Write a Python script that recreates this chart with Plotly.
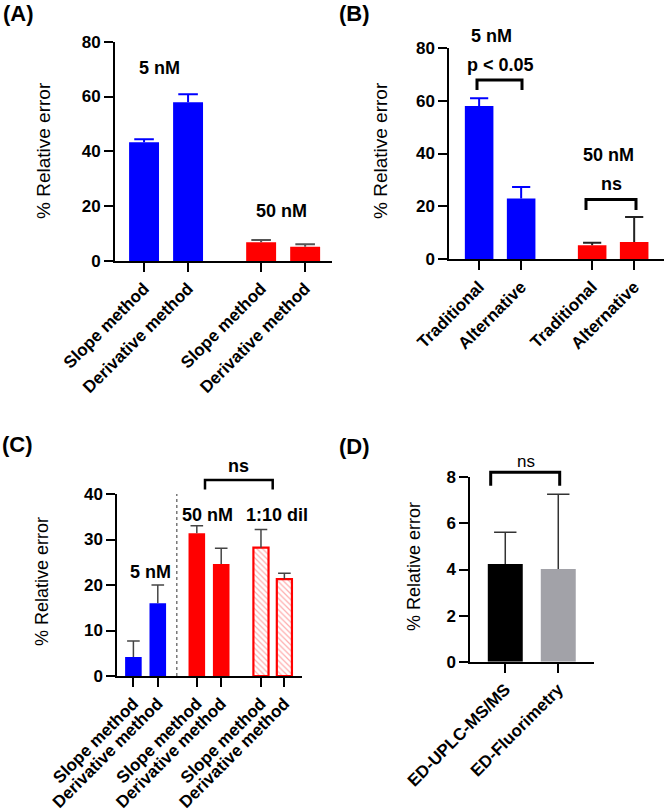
import plotly.graph_objects as go

W, H = 664, 811
FONT = "Liberation Sans, Arial, sans-serif"

# ---------------- data ----------------
# Panel A
a_labels = ["Slope method", "Derivative method", "Slope method", "Derivative method"]
a_5nm = [43.3, 57.9]
a_5nm_err = [1.1, 2.9]
a_50nm = [6.8, 5.2]
a_50nm_err = [0.9, 0.9]

# Panel B
b_labels = ["Traditional", "Alternative", "Traditional", "Alternative"]
b_5nm = [58.0, 23.0]
b_5nm_err = [2.9, 4.3]
b_50nm = [5.3, 6.5]
b_50nm_err = [1.0, 9.5]

# Panel C
c_labels = ["Slope method", "Derivative method", "Slope method", "Derivative method",
            "Slope method", "Derivative method"]
c_5nm = [4.2, 16.0]
c_5nm_err = [3.5, 4.0]
c_50nm = [31.4, 24.6]
c_50nm_err = [1.6, 3.5]
c_dil = [28.2, 21.3]
c_dil_err = [4.0, 1.3]

# Panel D
d_labels = ["ED-UPLC-MS/MS", "ED-Fluorimetry"]
d_values = [4.24, 4.02]
d_err = [1.38, 3.25]

# ---------------- layout helpers ----------------
a_pos = [0, 1, 2.66, 3.66]
b_pos = [0, 1, 2.69, 3.69]
c_pos = [0, 1, 2.6, 3.6, 5.23, 6.19]
d_pos = [0, 1]

BLUE = "#0000ff"
RED = "#ff0000"


def px(x):
    return x / W


def py(y):
    return 1 - y / H


fig = go.Figure()


def bar(xaxis, yaxis, xs, ys, err, color, ecolor, width, ewidth, ethick=1.6, pattern=None, line=None):
    marker = dict(color=color, line=dict(width=0))
    if pattern:
        marker["pattern"] = pattern
    if line:
        marker["line"] = line
    fig.add_trace(go.Bar(x=xs, y=ys, xaxis=xaxis, yaxis=yaxis, width=width,
                         marker=marker, showlegend=False, hoverinfo="skip"))
    # upper-only error bar: stem via error_y (no caps), cap via a line marker
    tops = [v + e for v, e in zip(ys, err)]
    fig.add_trace(go.Scatter(
        x=xs, y=tops, xaxis=xaxis, yaxis=yaxis, mode="markers",
        marker=dict(symbol="line-ew", size=2 * ewidth,
                    line=dict(color=ecolor, width=ethick)),
        error_y=dict(type="data", symmetric=False, array=[0] * len(err), arrayminus=err,
                     color=ecolor, thickness=ethick, width=0),
        showlegend=False, hoverinfo="skip"))


# A
bar("x", "y", a_pos[:2], a_5nm, a_5nm_err, BLUE, BLUE, 0.68, 7, 2)
bar("x", "y", a_pos[2:], a_50nm, a_50nm_err, RED, "#555555", 0.68, 7, 2)
# B
bar("x2", "y2", b_pos[:2], b_5nm, b_5nm_err, BLUE, BLUE, 0.68, 6.5, 2)
bar("x2", "y2", b_pos[2:], b_50nm, b_50nm_err, RED, "#222222", 0.68, 6.5, 2)
# C
bar("x3", "y3", c_pos[:2], c_5nm, c_5nm_err, BLUE, "#444444", 0.68, 4.5, 1.5)
bar("x3", "y3", c_pos[2:4], c_50nm, c_50nm_err, RED, "#444444", 0.68, 4.5, 1.5)
bar("x3", "y3", c_pos[4:], c_dil, c_dil_err, "white", "#444444", 0.62, 4.5, 1.5,
    pattern=dict(shape="\\", fgcolor="#ff5a5a", bgcolor="white", size=4, solidity=0.3),
    line=dict(color=RED, width=2.2))
# D
bar("x4", "y4", d_pos[:1], d_values[:1], d_err[:1], "#000000", "#333333", 0.66, 8, 1.5)
bar("x4", "y4", d_pos[1:], d_values[1:], d_err[1:], "#a2a2a8", "#333333", 0.66, 8, 1.5)

tickfont = dict(family=FONT, size=17, color="black", weight="bold")


def axes(n, xdom_px, ydom_px, xrange, yrange, dtick, tickvals, ticktext):
    xs = "" if n == 1 else str(n)
    xa = dict(domain=[px(xdom_px[0]), px(xdom_px[1])], range=xrange, anchor="y" + xs,
              showline=True, linecolor="black", linewidth=2, ticks="outside", ticklen=9,
              tickwidth=2, tickcolor="black", tickvals=tickvals, ticktext=ticktext,
              tickangle=-45, tickfont=tickfont, showgrid=False, zeroline=False,
              automargin=False, fixedrange=True)
    ya = dict(domain=[py(ydom_px[1]), py(ydom_px[0])], range=yrange, anchor="x" + xs,
              showline=True, linecolor="black", linewidth=2, ticks="outside", ticklen=9,
              tickwidth=2, tickcolor="black", dtick=dtick, tick0=0, tickfont=tickfont,
              showgrid=False, zeroline=False, automargin=False, fixedrange=True)
    fig.update_layout(**{"xaxis" + xs: xa, "yaxis" + xs: ya})


axes(1, (115, 332), (41.7, 261), [-0.66, 4.27], [0, 80], 20, a_pos, a_labels)
axes(2, (449.3, 664), (47.7, 259.3), [-0.71, 4.40], [0, 80], 20, b_pos, b_labels)
axes(3, (117.3, 301.7), (494, 676), [-0.66, 6.9], [0, 40], 10, c_pos, c_labels)
axes(4, (470.3, 594.3), (477.3, 661.7), [-0.66, 1.68], [0, 8], 2, d_pos, d_labels)

anns = []


def ann(text, x, y, size=18, bold=True, angle=0):
    anns.append(dict(text=text, x=px(x), y=py(y), xref="paper", yref="paper",
                     showarrow=False, textangle=angle, xanchor="center", yanchor="middle",
                     font=dict(family=FONT, size=size, color="black",
                               weight="bold" if bold else "normal")))


# panel letters
ann("(A)", 18, 13, 22)
ann("(B)", 354, 13, 22)
ann("(C)", 17, 445, 22)
ann("(D)", 354, 446, 22)

# y titles
ann("% Relative error", 43, 151, 19, False, -90)
ann("% Relative error", 380, 151, 19, False, -90)
ann("% Relative error", 42, 582, 18, False, -90)
ann("% Relative error", 414, 567, 18, False, -90)

# group labels
ann("5 nM", 159, 68)
ann("50 nM", 281, 211)
ann("5 nM", 491, 36)
ann("p < 0.05", 500, 65)
ann("50 nM", 608, 155)
ann("ns", 611, 184)
ann("5 nM", 150, 572)
ann("50 nM", 207, 515)
ann("1:10 dil", 277, 515)
ann("ns", 238, 466)
ann("ns", 526, 461, 17, False)

shapes = []


def bracket(x0, x1, ytop, yleg, width=3):
    path = "M {},{} L {},{} L {},{} L {},{}".format(
        px(x0), py(yleg), px(x0), py(ytop), px(x1), py(ytop), px(x1), py(yleg))
    shapes.append(dict(type="path", path=path, xref="paper", yref="paper",
                       line=dict(color="black", width=width)))


bracket(477, 522, 80, 90)
bracket(586, 636, 199.5, 210)
bracket(205, 272.7, 480, 489.5, 2.5)
bracket(490.7, 559.7, 472.3, 485.7, 3)

shapes.append(dict(type="line", xref="x3", yref="y3", x0=1.78, x1=1.78, y0=0, y1=40,
                   line=dict(color="#555555", width=1.2, dash="dot")))

fig.update_layout(width=W, height=H, margin=dict(l=0, r=0, t=0, b=0, autoexpand=False),
                  paper_bgcolor="white", plot_bgcolor="white",
                  annotations=anns, shapes=shapes, barmode="overlay",
                  font=dict(family=FONT, color="black"), hovermode=False)

fig.write_html("out.html", config={"displayModeBar": False, "staticPlot": True},
               post_script="document.body.style.margin='0';document.body.style.overflow='hidden';")
